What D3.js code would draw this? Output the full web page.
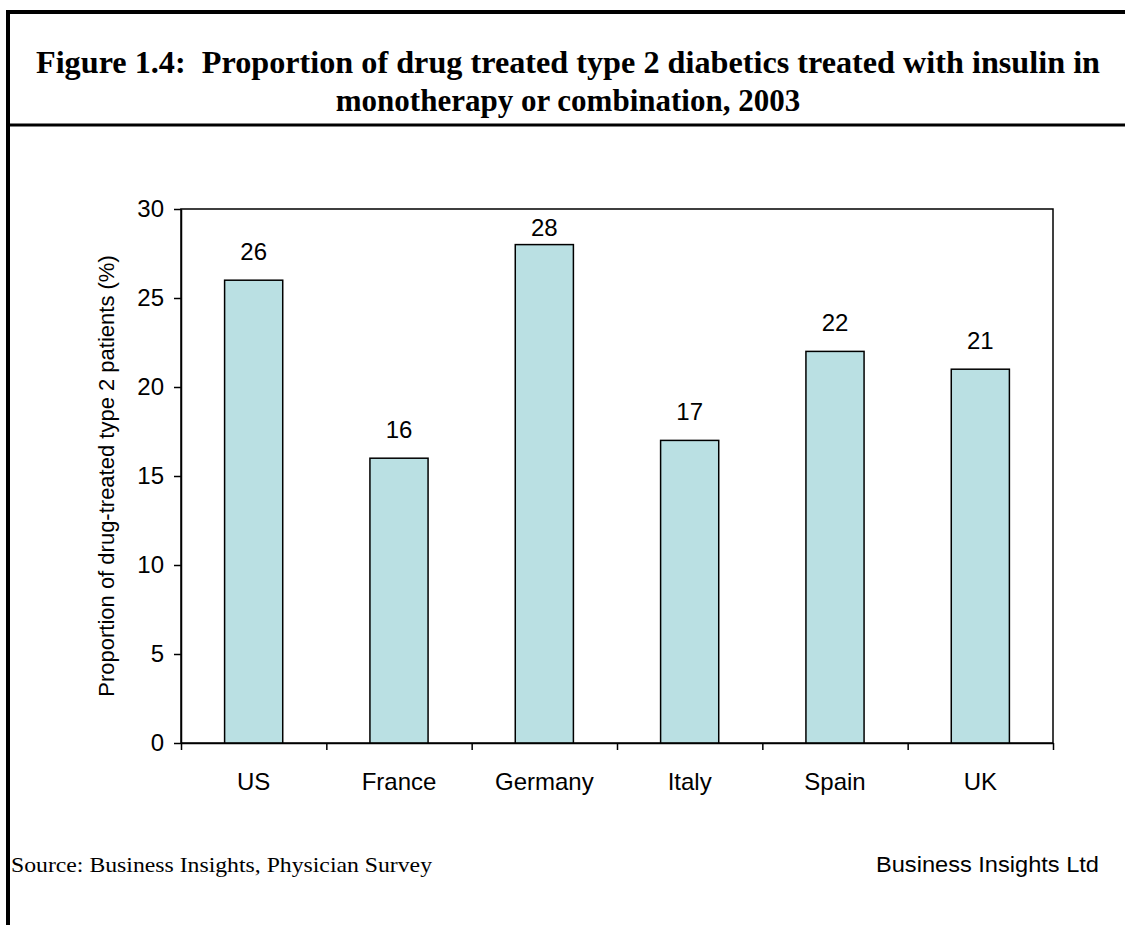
<!DOCTYPE html>
<html>
<head>
<meta charset="utf-8">
<script src="https://cdn.jsdelivr.net/npm/d3@7"></script>
<style>
  body { margin: 0; background: #fff; }
  svg { display: block; }
  text { white-space: pre; }
</style>
</head>
<body>
<script>
const countries = ['US', 'France', 'Germany', 'Italy', 'Spain', 'UK'];
const insulinShare = [26, 16, 28, 17, 22, 21];
const yTicks = [0, 5, 10, 15, 20, 25, 30];

const titleLines = [
  'Figure 1.4:  Proportion of drug treated type 2 diabetics treated with insulin in',
  'monotherapy or combination, 2003'
];
const yLabel = 'Proportion of drug-treated type 2 patients (%)';
const sourceText = 'Source: Business Insights, Physician Survey';
const creditText = 'Business Insights Ltd';

const W = 1125, H = 925;
const margin = { top: 209, right: 72, bottom: 182, left: 181 };
const sans = '"Liberation Sans", Arial, sans-serif';
const serif = '"Liberation Serif", "Times New Roman", serif';

const svg = d3.select('body').append('svg')
  .attr('width', W)
  .attr('height', H);

// frame: top line, left line, title separator
svg.append('line')
  .attr('x1', 6).attr('x2', W).attr('y1', 12).attr('y2', 12)
  .attr('stroke', '#000').attr('stroke-width', 4);
svg.append('line')
  .attr('x1', 8).attr('x2', 8).attr('y1', 10).attr('y2', H)
  .attr('stroke', '#000').attr('stroke-width', 4);
svg.append('line')
  .attr('x1', 8).attr('x2', W).attr('y1', 125).attr('y2', 125)
  .attr('stroke', '#000').attr('stroke-width', 3);

svg.append('g')
  .selectAll('text')
  .data(titleLines)
  .enter()
    .append('text')
    .attr('x', 568)
    .attr('y', (d, i) => 73 + i * 38)
    .attr('text-anchor', 'middle')
    .attr('font-family', serif)
    .attr('font-weight', 'bold')
    .attr('font-size', 31)
    .attr('textLength', (d, i) => i ? null : 1064)
    .attr('lengthAdjust', 'spacingAndGlyphs')
    .text(d => d);

const width = W - margin.left - margin.right;
const height = H - margin.top - margin.bottom;

const g = svg.append('g')
  .attr('transform', `translate(${margin.left}, ${margin.top})`);

const x = d3.scaleBand()
  .domain(countries)
  .range([0, width])
  .paddingInner(0.6)
  .paddingOuter(0.3);

const y = d3.scaleLinear()
  .domain([0, 30])
  .range([height, 0]);

// plot area box (top and right edges)
g.append('rect')
  .attr('width', width)
  .attr('height', height)
  .attr('fill', 'none')
  .attr('stroke', '#000')
  .attr('stroke-width', 1.5);

// bars
g.selectAll('.bar')
  .data(insulinShare)
  .enter()
    .append('rect')
    .attr('class', 'bar')
    .attr('x', (d, i) => x(countries[i]))
    .attr('y', d => y(d))
    .attr('width', x.bandwidth())
    .attr('height', d => height - y(d))
    .attr('fill', '#BAE0E3')
    .attr('stroke', '#000')
    .attr('stroke-width', 1.5);

// value labels, kept inside the plot area like Excel does
g.selectAll('.val')
  .data(insulinShare)
  .enter()
    .append('text')
    .attr('class', 'val')
    .attr('x', (d, i) => x(countries[i]) + x.bandwidth() / 2)
    .attr('y', d => Math.max(y(d) - 20, 27))
    .attr('text-anchor', 'middle')
    .attr('font-family', sans)
    .attr('font-size', 24)
    .text(d => d);

// y axis
const yAxis = d3.axisLeft(y)
  .tickValues(yTicks)
  .tickSize(7)
  .tickPadding(10)
  .tickSizeOuter(0);

g.append('g')
  .call(yAxis)
  .call(a => a.select('.domain').attr('stroke-width', 1.5))
  .call(a => a.selectAll('.tick line').attr('stroke-width', 1.5))
  .call(a => a.selectAll('text')
    .attr('font-family', sans)
    .attr('font-size', 24)
    .attr('fill', '#000'));

// x axis: ticks between categories
const xb = d3.scaleLinear().domain([0, countries.length]).range([0, width]);
const xAxis = d3.axisBottom(xb)
  .tickValues(d3.range(countries.length + 1))
  .tickSize(7)
  .tickFormat('')
  .tickSizeOuter(0);

g.append('g')
  .attr('transform', `translate(0, ${height})`)
  .call(xAxis)
  .call(a => a.select('.domain').attr('stroke-width', 1.5))
  .call(a => a.selectAll('.tick line').attr('stroke-width', 1.5));

g.append('g')
  .selectAll('text')
  .data(countries)
  .enter()
    .append('text')
    .attr('x', d => x(d) + x.bandwidth() / 2)
    .attr('y', height + 47)
    .attr('text-anchor', 'middle')
    .attr('font-family', sans)
    .attr('font-size', 24)
    .text(d => d);

// y axis title
svg.append('text')
  .attr('transform', `translate(114, ${margin.top + height / 2}) rotate(-90)`)
  .attr('text-anchor', 'middle')
  .attr('font-family', sans)
  .attr('font-size', 22)
  .text(yLabel);

// footer
svg.append('text')
  .attr('x', 11)
  .attr('y', 872)
  .attr('font-family', serif)
  .attr('font-size', 22)
  .attr('textLength', 421)
  .attr('lengthAdjust', 'spacingAndGlyphs')
  .text(sourceText);

svg.append('text')
  .attr('x', 1099)
  .attr('y', 872)
  .attr('text-anchor', 'end')
  .attr('font-family', sans)
  .attr('font-size', 22)
  .attr('textLength', 223)
  .attr('lengthAdjust', 'spacingAndGlyphs')
  .text(creditText);
</script>
</body>
</html>
